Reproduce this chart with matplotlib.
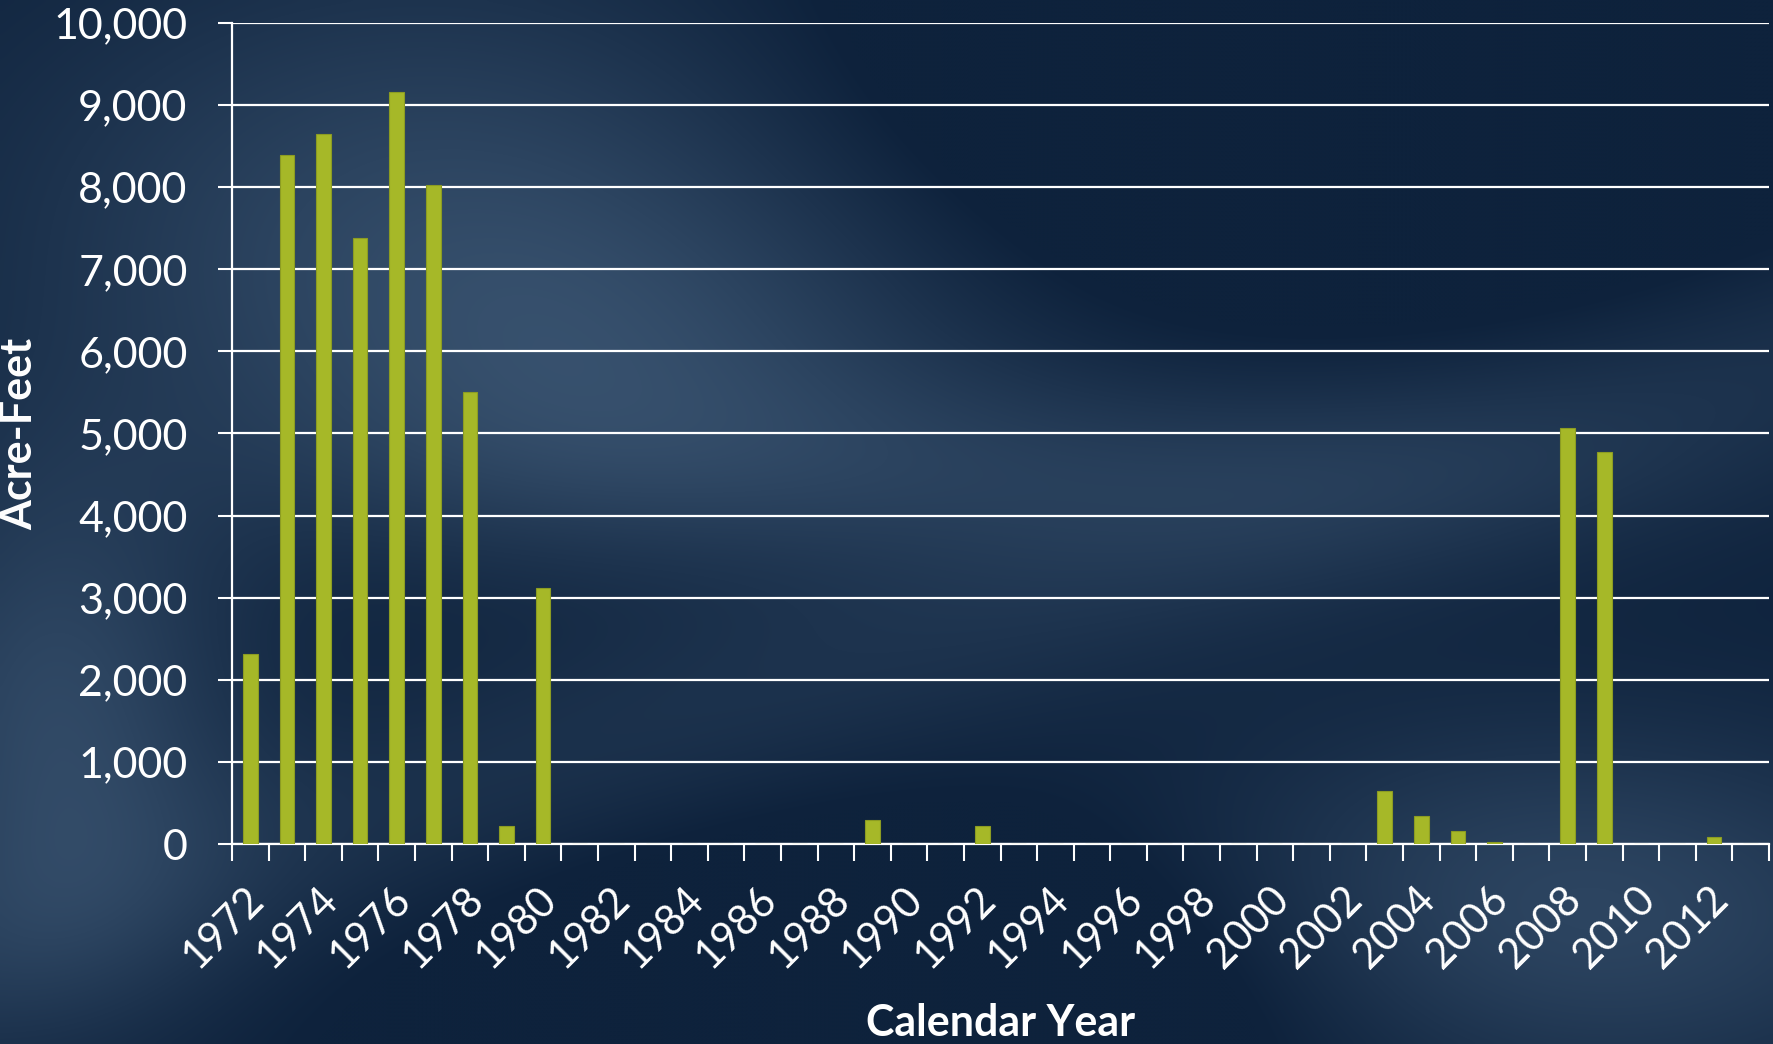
import numpy as np
import matplotlib
matplotlib.use("Agg")
import matplotlib.pyplot as plt
import matplotlib.transforms as mtransforms
from matplotlib.ticker import FuncFormatter, MultipleLocator

years = list(range(1972, 2014))
values = [2313, 8394, 8650, 7378, 9154, 8028, 5510, 215, 3118,
          0, 0, 0, 0, 0, 0, 0, 0, 295, 0, 0, 225,
          0, 0, 0, 0, 0, 0, 0, 0, 0, 0, 640, 345, 155, 25,
          0, 5070, 4770, 0, 0, 86, 0]
tick_labels = [str(y) for y in years]

plt.rcParams['font.family'] = ['Lato', 'DejaVu Sans']

W, H = 1773, 1044
fig = plt.figure(figsize=(W / 100, H / 100), dpi=100)

# background texture (style only)
bg = fig.add_axes([0, 0, 1, 1], zorder=-10)
yy, xx = np.mgrid[0:1:261j, 0:1:443j]
base = np.zeros_like(xx)
def blob(cx, cy, sx, sy, a):
    return a * np.exp(-(((xx - cx) / sx) ** 2 + ((yy - cy) / sy) ** 2))
base += blob(0.25, 0.2, 0.25, 0.25, 0.5)
base += blob(0.03, 0.7, 0.1, 0.25, 0.55)
base += blob(0.88, 0.88, 0.22, 0.18, 0.55)
base += blob(0.55, 0.45, 0.35, 0.1, 0.3)
base += blob(0.35, 0.35, 0.2, 0.15, 0.3)
base -= blob(0.75, 0.05, 0.25, 0.2, 0.5)
base -= blob(0.55, 0.95, 0.25, 0.15, 0.35)
d = (yy - 0.9 + 0.55 * xx)
base += 0.22 * np.exp(-(d / 0.12) ** 2)
base = np.clip(base, 0, 1)
dark = np.array([0x0e, 0x22, 0x3c]) / 255
light = np.array([0x4a, 0x66, 0x84]) / 255
img = dark[None, None, :] * (1 - base[..., None]) + light[None, None, :] * base[..., None]
bg.imshow(img, aspect='auto', extent=[0, 1, 0, 1], origin='upper', interpolation='bicubic')
bg.set_axis_off()

ax = fig.add_axes([232 / W, 1 - 844 / H, (1769 - 232) / W, (844 - 23) / H])
ax.patch.set_alpha(0)

x = np.arange(len(years))
ax.bar(x, values, width=0.4, color='#a6b828', edgecolor='#8c9c22', linewidth=0.8, zorder=3)

ax.set_xlim(-0.5, len(years) - 0.5)
ax.set_ylim(0, 10000)
ax.yaxis.set_major_locator(MultipleLocator(1000))
ax.yaxis.set_major_formatter(FuncFormatter(lambda v, p: f"{int(v):,}"))
ax.grid(axis='y', color='white', linewidth=1.6, zorder=1)
ax.set_axisbelow(True)

ax.set_xticks(x[::2])
ax.set_xticklabels(tick_labels[::2], rotation=45, ha='right', va='top', rotation_mode='anchor')
ax.set_xticks(np.arange(len(years) + 1) - 0.5, minor=True)
ax.tick_params(axis='x', which='major', length=0, pad=26, labelsize=30, colors='white')
ax.tick_params(axis='x', which='minor', length=12, width=1.5, color='white', direction='out')
ax.tick_params(axis='y', which='major', length=10, width=1.5, color='white', labelsize=31,
               labelcolor='white', pad=22)
shift = mtransforms.ScaledTranslation(-6 / 100, 0, fig.dpi_scale_trans)
for lab in ax.get_xticklabels():
    lab.set_transform(lab.get_transform() + shift)

for s in ['top', 'right']:
    ax.spines[s].set_visible(False)
for s in ['left', 'bottom']:
    ax.spines[s].set_color('white')
    ax.spines[s].set_linewidth(1.6)

fig.text(1001 / W, 1 - 1023 / H, 'Calendar Year', ha='center', va='center',
         fontsize=31, fontweight='bold', color='white')
fig.text(19 / W, 1 - 434 / H, 'Acre-Feet', ha='center', va='center', rotation=90,
         fontsize=31, fontweight='bold', color='white')

fig.savefig('out.png', dpi=100)
